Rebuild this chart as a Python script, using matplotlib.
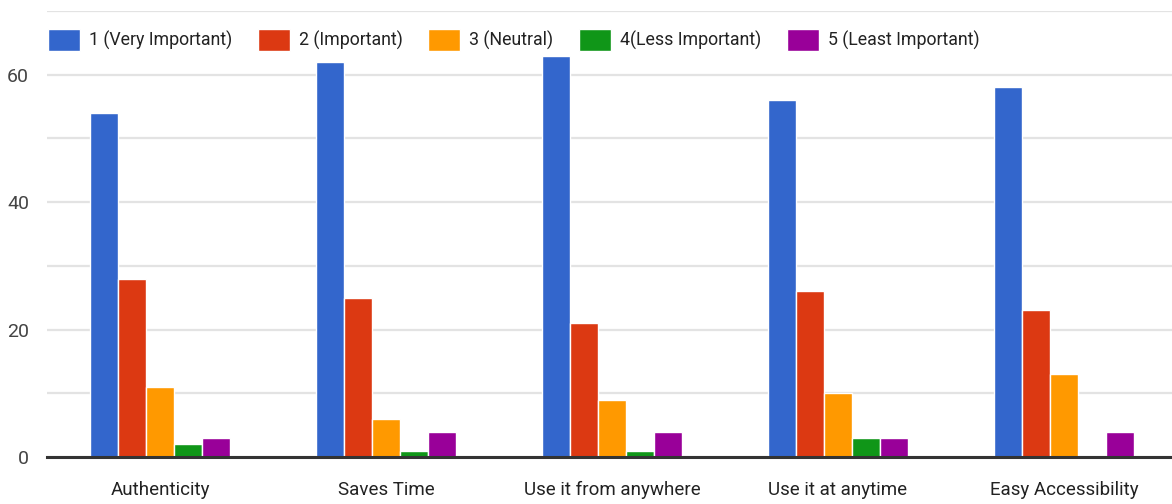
import numpy as np
import matplotlib.pyplot as plt

plt.rcParams['font.family'] = ['Roboto', 'DejaVu Sans']

# survey responses per feature, by importance rating
categories = ['Authenticity', 'Saves Time', 'Use it from anywhere',
              'Use it at anytime', 'Easy Accessibility']
series_names = ['1 (Very Important)', '2 (Important)', '3 (Neutral)',
                '4(Less Important)', '5 (Least Important)']
very_important = [54, 62, 63, 56, 58]
important = [28, 25, 21, 26, 23]
neutral = [11, 6, 9, 10, 13]
less_important = [2, 1, 1, 3, 0]
least_important = [3, 4, 4, 3, 4]

colors = ['#3366cc', '#dc3912', '#ff9900', '#109618', '#990099']
series = [very_important, important, neutral, less_important, least_important]

fig = plt.figure(figsize=(11.72, 5.04), dpi=100)
ax = fig.add_axes([47 / 1172, 47 / 504, 1130 / 1172, 446 / 504])

x = np.arange(len(categories))
w = 0.124
for j, (vals, name, c) in enumerate(zip(series, series_names, colors)):
    ax.bar(x + (j - 2) * w, vals, width=w, color=c, edgecolor='white',
           linewidth=1, label=name, zorder=3)

ax.set_xlim(-0.5, 4.5)
ax.set_ylim(0, 70)
yt = list(range(0, 80, 10))
ax.set_yticks(yt)
ax.set_yticklabels([str(v) if v % 20 == 0 and v < 70 else '' for v in yt])
ax.set_xticks(x)
ax.set_xticklabels(categories)
ax.tick_params(axis='y', length=0, pad=13, labelsize=14, labelcolor='#444444')
ax.tick_params(axis='x', length=0, pad=17, labelsize=13.5, labelcolor='#222222')
ax.grid(axis='y', color='#e3e3e3', linewidth=1.6, zorder=0)
ax.set_axisbelow(True)
for s in ['top', 'right', 'left']:
    ax.spines[s].set_visible(False)
ax.spines['bottom'].set_color('#333333')
ax.spines['bottom'].set_linewidth(2.2)
ax.spines['bottom'].set_zorder(4)

fig.legend(loc='center left', bbox_to_anchor=(48 / 1172, 1 - 40 / 504),
           ncol=5, frameon=False, fontsize=12.8, borderpad=0, borderaxespad=0,
           handlelength=1.8, handleheight=1.45, handletextpad=0.5,
           columnspacing=1.45, labelcolor='#222222')

fig.savefig('out.png', dpi=100)
